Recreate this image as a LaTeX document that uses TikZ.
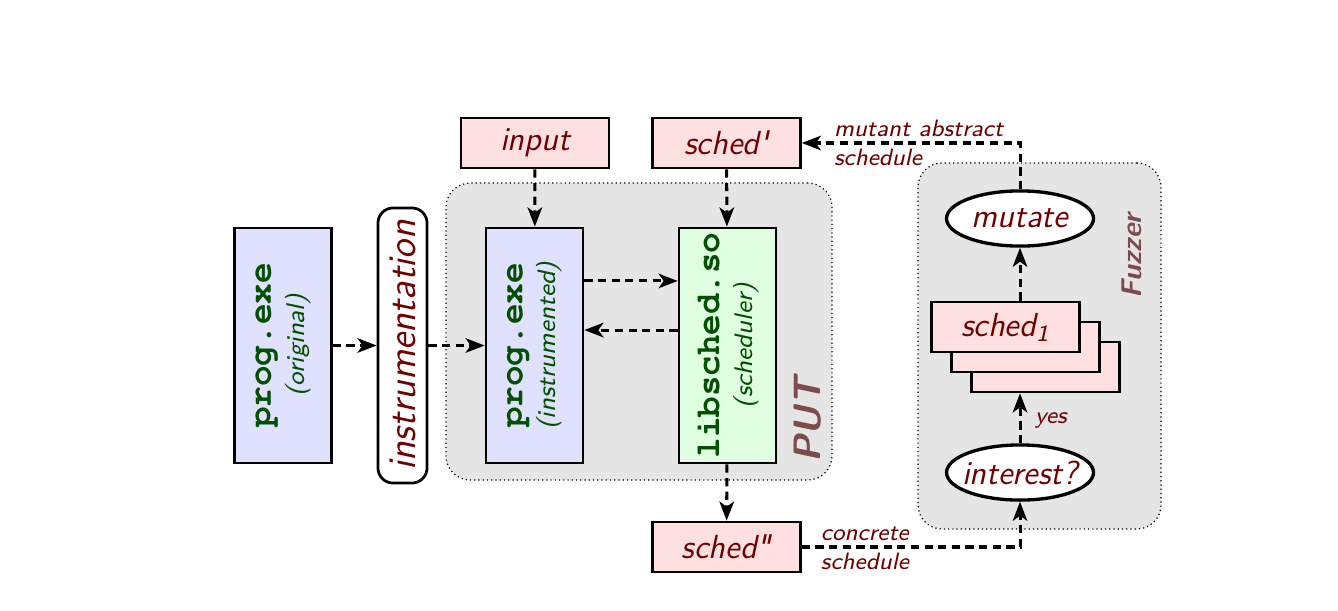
\documentclass[tikz,border=0pt]{standalone}
\usepackage{fontspec}
\usetikzlibrary{arrows.meta,shapes.geometric}
\definecolor{txtred}{RGB}{110,0,0}
\definecolor{codegreen}{RGB}{0,80,0}
\definecolor{lblbrown}{RGB}{125,75,75}
\definecolor{binblue}{RGB}{224,224,255}
\definecolor{libgreen}{RGB}{224,255,224}
\definecolor{datapink}{RGB}{255,224,224}
\definecolor{panelgray}{RGB}{229,229,229}
\newcommand{\code}[1]{{\fontencoding{T1}\fontfamily{pcr}\fontseries{b}\fontshape{n}\selectfont #1}}

\begin{document}
\begin{tikzpicture}[x=0.33pt, y=-0.33pt,
  font=\sffamily\itshape,
  bin/.style = {draw, line width=0.9pt, rotate=90, align=center, inner sep=1pt,
    minimum width=77.6pt, minimum height=32pt, text=codegreen},
  data/.style = {draw, line width=0.9pt, fill=datapink, inner sep=1pt,
    minimum width=48.8pt, minimum height=16.5pt, text=txtred,
    font=\fontsize{11}{13}\selectfont\sffamily\itshape},
  act/.style = {draw, ellipse, line width=1.1pt, fill=white, inner xsep=-5pt, inner ysep=0pt,
    minimum width=48.5pt, minimum height=18.2pt, text=txtred,
    font=\fontsize{11}{13}\selectfont\sffamily\itshape},
  panel/.style = {draw, densely dotted, fill=panelgray, rounded corners=8pt},
  tag/.style = {rotate=90, text=lblbrown, font=\bfseries\sffamily\itshape},
  lbl/.style = {text=txtred, inner sep=1.5pt, font=\fontsize{7.8}{10}\selectfont\sffamily\itshape},
  flow/.style = {draw, line width=1pt, dash pattern=on 2.7pt off 1.8pt,
    -{Stealth[length=6.3pt,width=4.8pt,inset=1.7pt]}}]
\useasboundingbox (0,0) rectangle (1338,610);

% panels
\node[panel, minimum width=127.4pt, minimum height=98pt] (put) at (639,331.5) {};
\node[panel, minimum width=80.2pt, minimum height=120.8pt] (fuzz) at (1039.5,346) {};
\node[tag, font=\fontsize{12.6}{14}\selectfont\bfseries\sffamily\itshape] (putlbl) at (808,420) {PUT};
\node[tag, font=\fontsize{9.4}{11}\selectfont\bfseries\sffamily\itshape] (fuzzlbl) at (1132,256) {Fuzzer};

% program side
\node[bin, fill=binblue] (orig) at (283,345.5)
  {{\fontsize{11.3}{12}\selectfont\code{prog.exe}}\\[-1pt] {\fontsize{8.4}{10}\selectfont (original)}};
\node[draw, line width=0.9pt, fill=white, rotate=90, rounded corners=5pt, inner sep=1pt,
  minimum width=90.8pt, minimum height=16.2pt, text=txtred,
  font=\fontsize{12.9}{14}\selectfont\sffamily\itshape] (instr) at (402.5,345.5) {instrumentation};
\node[bin, fill=binblue] (progi) at (534.5,345.5)
  {{\fontsize{11.3}{12}\selectfont\code{prog.exe}}\\[-1pt] {\fontsize{8.4}{10}\selectfont (instrumented)}};
\node[bin, fill=libgreen] (lib) at (727.5,345.5)
  {{\fontsize{11.3}{12}\selectfont\code{libsched.so}}\\[-1pt] {\fontsize{8.4}{10}\selectfont (scheduler)}};

% schedules
\node[data] (input) at (535,143) {input};
\node[data] (sp) at (726.5,143) {sched\textquotesingle};
\node[data] (sdd) at (726.5,547) {sched\textquotedbl};

% fuzzer
\node[act] (mutate) at (1020,218.5) {mutate};
\node[data] (s3) at (1045.5,367) {};
\node[data] (s2) at (1025.5,347) {};
\node[data] (s1) at (1005.5,327) {sched\textsubscript{1}};
\node[act] (interest) at (1020,472.5) {interest?};

\draw[flow] (orig) -- (instr);
\draw[flow] (instr) -- (progi);
\draw[flow] (input) -- (progi);
\draw[flow] (sp) -- (lib);
\draw[flow] ([yshift=21.3pt]progi.south) -- ([yshift=21.3pt]lib.north);
\draw[flow] ([yshift=5.1pt]lib.north) -- ([yshift=5.1pt]progi.south);
\draw[flow] (lib) -- (sdd);
\draw[flow] (sdd.east) -| node[lbl, pos=0.03, anchor=south west] {concrete}
  node[lbl, pos=0.03, anchor=north west] {schedule} (interest.south);
\draw[flow] (interest.north) -- node[lbl, right, xshift=3pt, pos=0.45] {yes} (interest.north |- s3.south);
\draw[flow] (s1.north -| mutate.south) -- (mutate.south);
\draw[flow] (mutate.north) |- node[lbl, pos=0.94, anchor=south west] {mutant abstract}
  node[lbl, pos=0.94, anchor=north west] {schedule} (sp.east);
\end{tikzpicture}
\end{document}
